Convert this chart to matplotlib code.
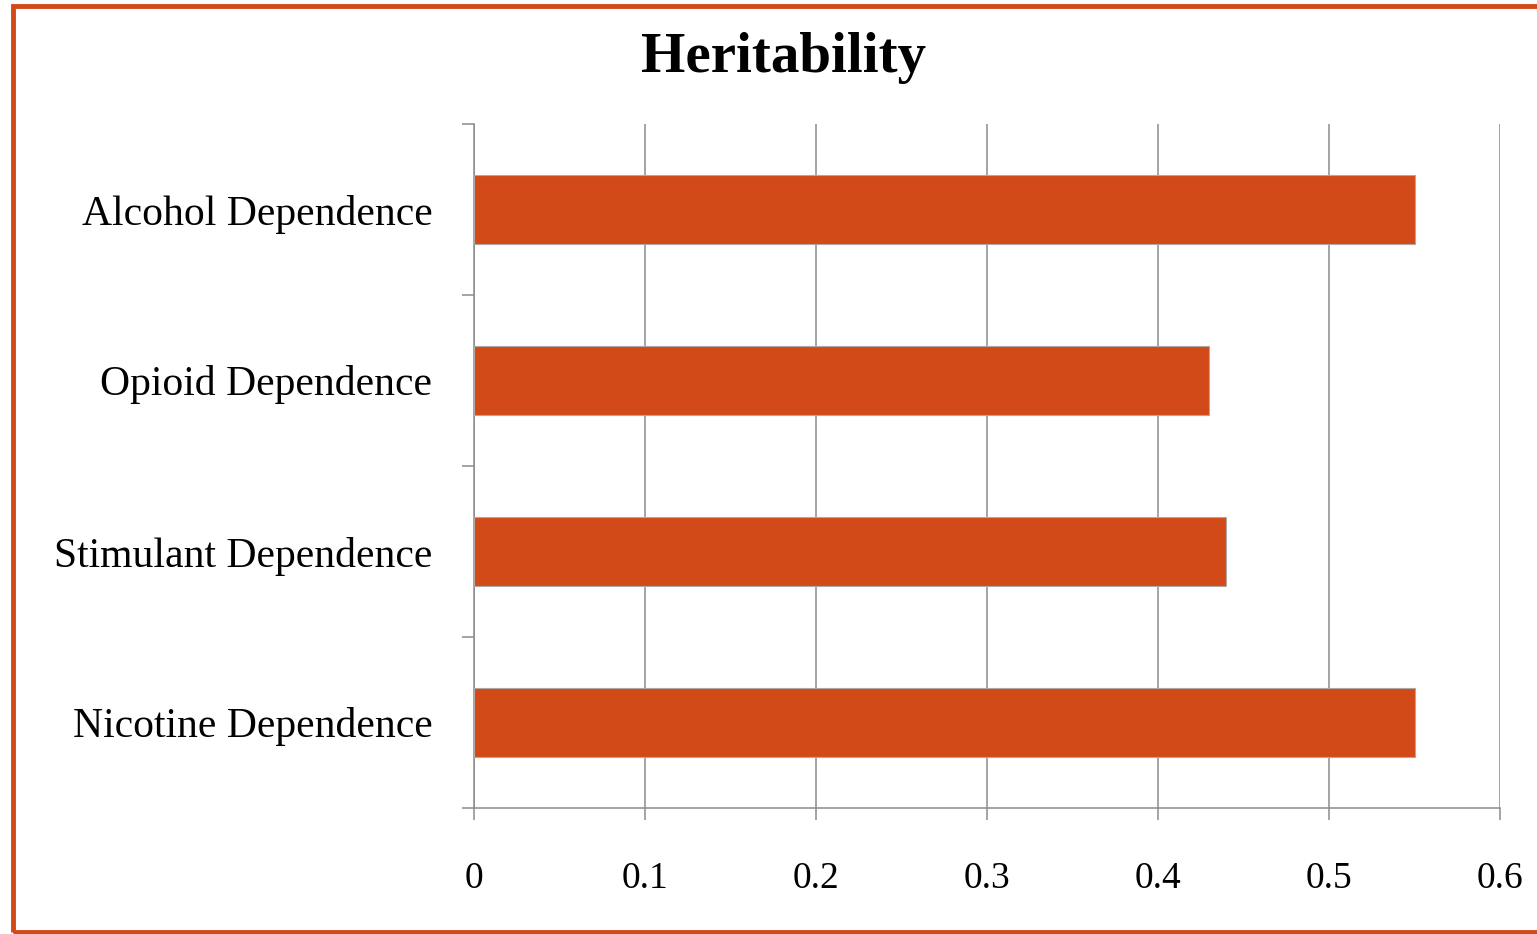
import numpy as np
import matplotlib
matplotlib.use("Agg")
import matplotlib.pyplot as plt
from matplotlib.patches import Rectangle

categories = ["Alcohol Dependence", "Opioid Dependence",
              "Stimulant Dependence", "Nicotine Dependence"]
heritability = [0.55, 0.43, 0.44, 0.55]
xticks = [0, 0.1, 0.2, 0.3, 0.4, 0.5, 0.6]
xtick_labels = ["0", "0.1", "0.2", "0.3", "0.4", "0.5", "0.6"]

plt.rcParams['font.family'] = ['Liberation Serif', 'DejaVu Serif']

fig = plt.figure(figsize=(15.37, 9.34), dpi=100)
ax = fig.add_axes([474/1537, 1-808/934, 1026/1537, 684/934])

# first category at the top
ypos = np.arange(len(categories))[::-1]
ax.barh(ypos, heritability, height=0.4, color="#D14A17",
        edgecolor="#B0A8A4", linewidth=0.8, zorder=3)

ax.set_xlim(0, 0.6)
ax.set_ylim(-0.5, len(categories) - 0.5)
ax.set_xticks(xticks)
ax.set_xticklabels(xtick_labels, fontsize=27)
ax.set_yticks(ypos)
ax.set_yticklabels(categories, fontsize=30)
ax.set_yticks(np.arange(-0.5, len(categories)), minor=True)

ax.grid(axis="x", color="#8C8C8C", linewidth=1.1, zorder=0)
for s in ["top", "right"]:
    ax.spines[s].set_visible(False)
for s in ["left", "bottom"]:
    ax.spines[s].set_color("#8C8C8C")
    ax.spines[s].set_linewidth(1.1)

ax.tick_params(axis="x", length=8.6, width=1.1, color="#8C8C8C", pad=30)
ax.tick_params(axis="y", which="major", length=0, pad=30)
ax.tick_params(axis="y", which="minor", length=8.6, width=1.1, color="#8C8C8C")

fig.text(784/1537, 1-58/934, "Heritability", ha="center", va="center",
         fontsize=41, fontweight="bold")

# frame around the whole chart, open on the right
fig.patches.append(Rectangle((13/1537, 2/934), 1.1, 1-8/934,
                             transform=fig.transFigure, fill=False,
                             edgecolor="#D14A17", linewidth=3.5))

fig.savefig("out.png", dpi=100)
